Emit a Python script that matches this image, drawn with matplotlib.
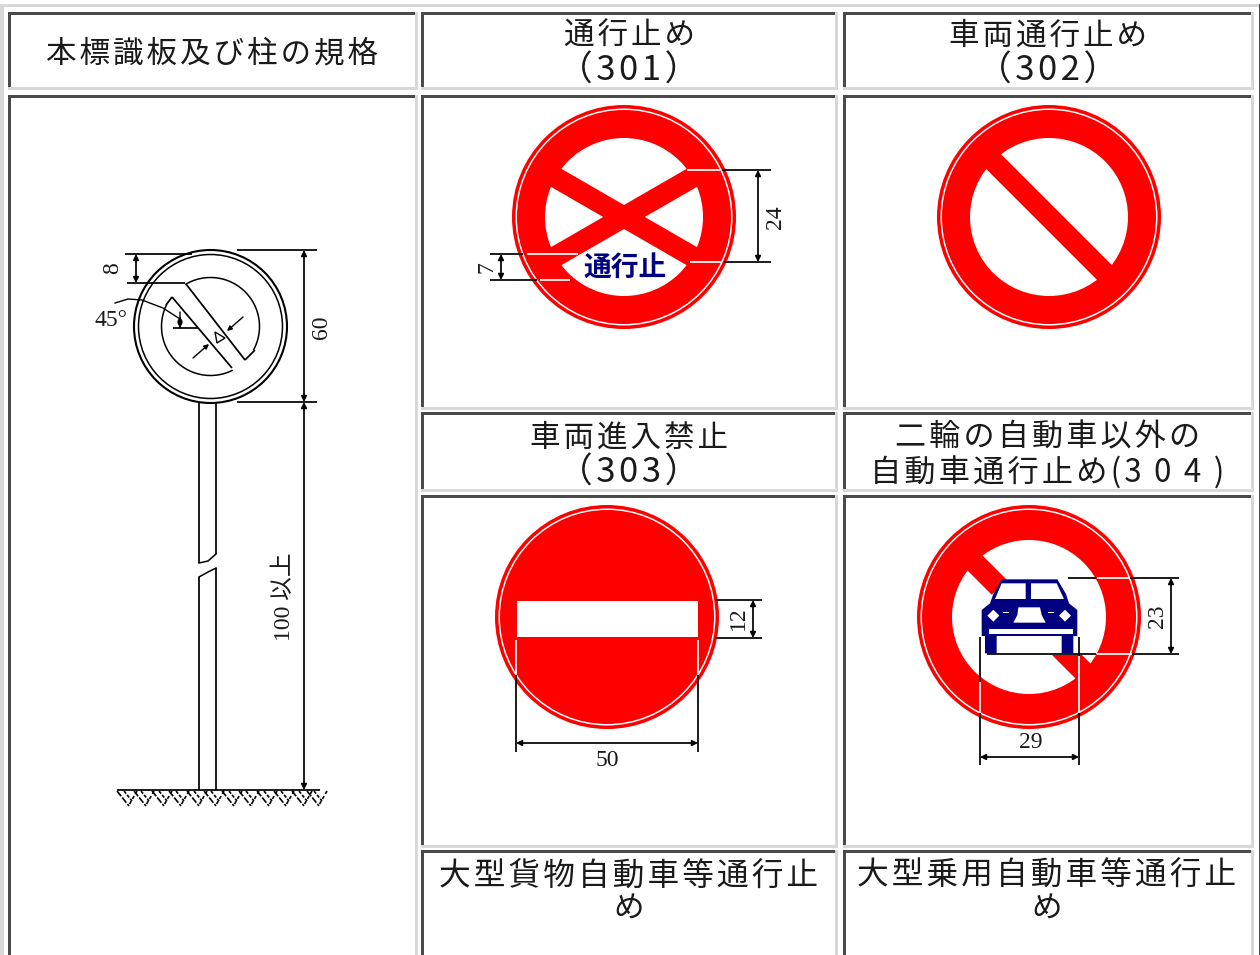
import numpy as np
import matplotlib
matplotlib.use('Agg')
import matplotlib.pyplot as plt
from matplotlib.patches import Circle, Polygon, Rectangle

CJK = ['Noto Sans CJK JP', 'DejaVu Sans']
DIM_FONT = ['Liberation Serif', 'Noto Sans CJK JP']
HAIR = '\u200a'
RED = '#ff0000'
NAVY = '#000080'
DARK = '#4a4a4a'
LIGHT = '#d8d8d8'
INK = '#1a1a1a'

# table cells: x0, y0, x1, y1
cells = [
    (8, 12, 418, 90), (421, 12, 838, 90), (843, 12, 1254, 90),
    (8, 95, 418, 990), (421, 95, 838, 410), (843, 95, 1254, 410),
    (421, 412, 838, 492), (843, 412, 1254, 492),
    (421, 495, 838, 848), (843, 495, 1254, 848),
    (421, 850, 838, 990), (843, 850, 1254, 990),
]

# header lines: text, x centre, y centre, size in points
head_lines = [
    ('本標識板及び柱の規格', 212, 53.5, 22),
    ('通行止め', 629, 36, 22),
    ('（301）', 629, 71, 25),
    ('車両通行止め', 1048, 36, 22),
    ('（302）', 1048, 71, 25),
    ('車両進入禁止', 629, 438, 22),
    ('（303）', 629, 473, 25),
    ('二輪の自動車以外の', 1048, 438, 22.4),
    ('自動車通行止め(304)', 1047, 473, 22.5),
    ('大型貨物自動車等通行止', 629, 876, 22.8),
    ('め', 629, 909, 22),
    ('大型乗用自動車等通行止', 1047, 876, 22.8),
    ('め', 1047, 909, 22),
]

# dimension labels: text, x, y, rotation
dim_labels = [
    ('60', 322, 327, 90), ('8', 113, 268, 90), ('45°', 111, 320, 0),
    ('100 以上', 284, 597, 90),
    ('24', 775, 217, 90), ('7', 487, 267, 90),
    ('12', 738, 618, 90), ('50', 607, 760, 0),
    ('23', 1157, 616, 90), ('29', 1031, 742, 0),
]

# dimension lines: black x0, y0, x1, y1
black_lines = [
    (237, 250, 317, 250), (237, 402, 317, 402),
    (125, 254, 192, 254), (127, 283, 185, 283),
    (722, 170, 771, 170), (724, 262, 771, 262),
    (490, 254, 523, 254), (490, 280, 537, 280),
    (715, 600, 762, 600), (715, 638, 762, 638),
    (516, 675, 516, 752), (698, 675, 698, 752),
    (1068, 578, 1096, 578), (1130, 578, 1179, 578),
    (987, 654, 1096, 654), (1132, 654, 1179, 654),
    (980, 637, 980, 682), (980, 713, 980, 765),
    (1079, 637, 1079, 656), (1079, 713, 1079, 765),
]
white_lines = [
    (687, 170, 720, 170), (690, 262, 722, 262),
    (527, 254, 578, 254), (540, 280, 570, 280),
    (516, 640, 516, 674), (698, 640, 698, 674),
    (1097, 578, 1130, 578), (1097, 654, 1132, 654),
    (980, 682, 980, 713), (1079, 656, 1079, 713),
]
# double arrows: x0, y0, x1, y1
arrows = [
    (304, 250, 304, 402), (304, 402, 304, 790), (136, 254, 136, 283),
    (758, 170, 758, 262), (501, 254, 501, 280),
    (753, 600, 753, 638), (516, 743, 698, 743),
    (1171, 578, 1171, 654), (980, 757, 1079, 757),
]
# single arrows on the left drawing: tail x, y, head x, y
small_arrows = [
    (193, 358, 209, 344), (243, 317, 227, 331), (180, 312, 180, 328), (180, 328, 180, 316),
]

# signs: x centre, y centre
sign_301 = (624, 217)
sign_302 = (1049, 217)
sign_303 = (607, 617)
sign_304 = (1029, 617)
ground_x = [117, 134, 152, 169, 187, 204, 222, 239, 257, 274, 292, 307]

# car shapes, in 3x crop coordinates of the sign area
car_body = [(305, 238), (472, 238), (498, 282), (507, 310), (532, 330), (532, 408),
            (520, 408), (520, 460), (485, 460), (485, 408), (290, 408), (290, 460),
            (255, 460), (255, 408), (245, 408), (245, 330), (270, 310), (280, 282)]
car_glass_l = [(285, 297), (305, 250), (377, 250), (377, 297)]
car_glass_r = [(393, 250), (470, 250), (492, 297), (393, 297)]
car_grille = [(340, 368), (352, 345), (355, 322), (420, 322), (425, 345), (437, 368)]
car_bumper = [(268, 388), (518, 388), (518, 403), (268, 403)]
car_lamps = [(280, 347), (495, 347)]
car_dashes = [(310, 335, 328, 339), (444, 335, 462, 339)]


def spaced(s, size):
    # letter spacing; digits on the smaller lines get more room
    out = ''
    for ch in s:
        out += ch + HAIR
        if ch.isdigit() and size < 25:
            out += HAIR * 3
    return out.rstrip(HAIR)


def cz(p):
    return (900 + p[0] / 3, 500 + p[1] / 3)


def seg(ax, x0, y0, x1, y1, color='black', lw=1.25):
    ax.plot([x0, x1], [y0, y1], color=color, lw=lw, solid_capstyle='butt', zorder=6)


def draw_cell(ax, x0, y0, x1, y1):
    ax.add_patch(Rectangle((x0, y0), x1 - x0, 3, color=DARK, lw=0))
    ax.add_patch(Rectangle((x0, y0), 3, y1 - y0, color=DARK, lw=0))
    ax.add_patch(Rectangle((x1 - 3, y0), 3, y1 - y0, color=LIGHT, lw=0))
    ax.add_patch(Rectangle((x0, y1 - 3), x1 - x0, 3, color=LIGHT, lw=0))


def disc(ax, c, inner=None):
    ax.add_patch(Circle(c, 112, color=RED, lw=0, zorder=2))
    ax.add_patch(Circle(c, 108.5, color='white', lw=0, zorder=2))
    ax.add_patch(Circle(c, 107, color=RED, lw=0, zorder=2))
    if inner:
        ax.add_patch(Circle(c, inner, color='white', lw=0, zorder=2))


def bar(ax, c, angle, half, r0=-92, r1=92):
    # thick red band through the centre of a sign
    t = np.radians(angle)
    d = np.array([np.cos(t), np.sin(t)])
    n = np.array([-d[1], d[0]])
    c = np.array(c)
    pts = [c + d * r0 + n * half, c + d * r1 + n * half,
           c + d * r1 - n * half, c + d * r0 - n * half]
    ax.add_patch(Polygon(pts, color=RED, lw=0, zorder=3))


fig = plt.figure(figsize=(12.6, 9.55), dpi=100)
ax = fig.add_axes([0, 0, 1, 1])
ax.set_xlim(0, 1260)
ax.set_ylim(955, 0)
ax.axis('off')

# outer table frame
ax.add_patch(Rectangle((0, 4), 1260, 3.5, color=LIGHT, lw=0))
ax.add_patch(Rectangle((0, 4), 3.5, 960, color=LIGHT, lw=0))
ax.add_patch(Rectangle((1258.5, 4), 1.5, 960, color=DARK, lw=0))
for c in cells:
    draw_cell(ax, *c)

for txt, x, y, size in head_lines:
    ax.text(x, y, spaced(txt, size), family=CJK, fontsize=size, color=INK, ha='center', va='center')

# 301
disc(ax, sign_301, 79)
bar(ax, sign_301, 30, 10.4)
bar(ax, sign_301, -30, 10.4)
ax.text(sign_301[0] + 1, 268, '通行止', family='Noto Sans CJK JP', fontweight='bold', fontsize=20,
        color=NAVY, ha='center', va='center', zorder=5)

# 302
disc(ax, sign_302, 79)
bar(ax, sign_302, 45, 10.5)

# 303
disc(ax, sign_303)
ax.add_patch(Rectangle((517, 601), 181, 36, color='white', lw=0, zorder=3))

# 304
disc(ax, sign_304, 77)
bar(ax, sign_304, 45, 10.6, 0, 92)
ax.add_patch(Rectangle((985, 590), 108, 65, color='white', lw=0, zorder=3))
bar(ax, sign_304, 45, 10.6, -92, -42)
ax.add_patch(Polygon([cz(p) for p in car_body], color=NAVY, lw=0, zorder=4))
for shape in (car_glass_l, car_glass_r, car_grille, car_bumper):
    ax.add_patch(Polygon([cz(p) for p in shape], color='white', lw=0, zorder=5))
for p in car_lamps:
    x, y = cz(p)
    ax.add_patch(Polygon([(x - 6, y), (x, y - 6), (x + 6, y), (x, y + 6)], color='white', lw=0, zorder=5))
for d in car_dashes:
    x0, y0 = cz(d[:2])
    x1, y1 = cz(d[2:])
    ax.add_patch(Rectangle((x0, y0), x1 - x0, y1 - y0, color='white', lw=0, zorder=5))

# left drawing: sign outline
cx, cy = 210.5, 326.5
for r, w in ((76.5, 1.5), (72, 1.1)):
    ax.add_patch(Circle((cx, cy), r, fc='none', ec='black', lw=w, zorder=4))
for t0, t1 in ((-120, 28), (64, 206)):
    t = np.radians(np.linspace(t0, t1, 60))
    ax.plot(cx + 49 * np.cos(t), cy + 49 * np.sin(t), color='black', lw=1.1, zorder=4)
seg(ax, 186, 284, 245, 360)
seg(ax, 245, 360, 255, 350)
seg(ax, 172, 297, 232, 368)
seg(ax, 166, 305, 172, 297)
# angle and width marks
seg(ax, 173, 328, 198, 328)
ax.add_patch(Polygon([(215, 332), (217, 343), (225, 338)], fc='none', ec='black', lw=1.0))
t = np.array([(115, 303), (128, 299), (142, 300), (163, 308), (180, 319)])
ax.plot(t[:, 0], t[:, 1], color='black', lw=1.0)
for x0, y0, x1, y1 in small_arrows:
    ax.annotate('', xy=(x1, y1), xytext=(x0, y0), zorder=7,
                arrowprops=dict(arrowstyle='-|>', color='black', lw=1.0, mutation_scale=7,
                                shrinkA=0, shrinkB=0))

# pole
seg(ax, 199, 402, 199, 563)
seg(ax, 216, 402, 216, 554)
ax.plot([199, 208, 216], [563, 561, 554], color='black', lw=1.1)
seg(ax, 199, 577, 199, 790)
seg(ax, 216, 568, 216, 790)
ax.plot([199, 208, 216], [577, 572, 568], color='black', lw=1.1)

# ground
seg(ax, 117, 790, 320, 790)
for x in ground_x:
    ax.plot([x, x + 12], [791, 806], color='black', lw=1.2, ls=(0, (4, 1)))
    ax.plot([x + 7, x + 15], [791, 801], color='black', lw=1.2, ls=(0, (2, 1)))
    ax.plot([x + 20, x + 12], [791, 805], color='black', lw=1.2, ls=(0, (2, 1.5)))

for ln in black_lines:
    seg(ax, *ln)
for ln in white_lines:
    seg(ax, *ln, color='white')
for x0, y0, x1, y1 in arrows:
    ax.annotate('', xy=(x1, y1), xytext=(x0, y0), zorder=7,
                arrowprops=dict(arrowstyle='<|-|>', color='black', lw=1.25, mutation_scale=8,
                                shrinkA=0, shrinkB=0))
for txt, x, y, rot in dim_labels:
    ax.text(x, y, txt, family=DIM_FONT, fontsize=17, color=INK, ha='center', va='center',
            rotation=rot, zorder=7)

fig.savefig('out.png', dpi=100)
